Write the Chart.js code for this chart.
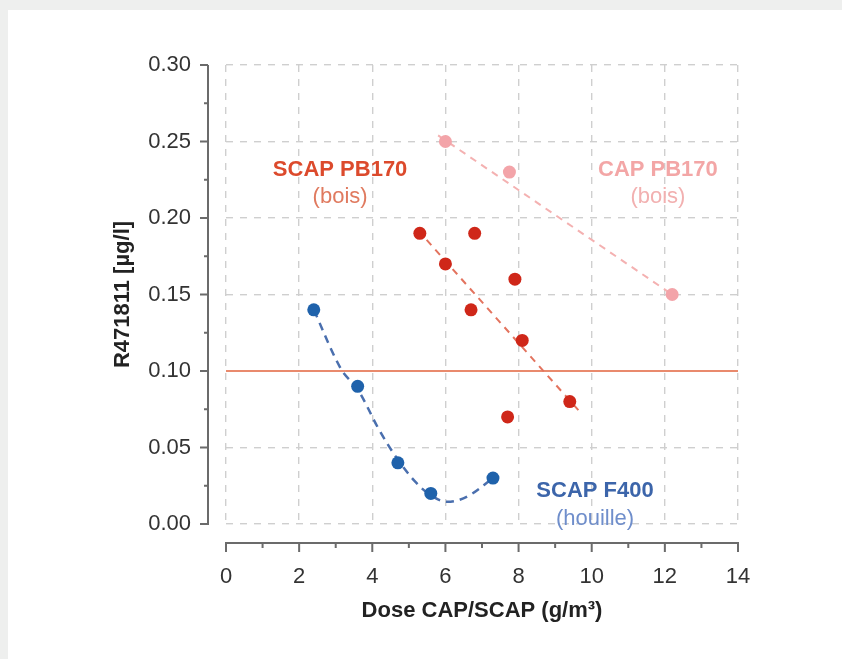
<!DOCTYPE html>
<html>
<head>
<meta charset="utf-8">
<script src="https://cdn.jsdelivr.net/npm/chart.js@4"></script>
<style>
  html, body { margin: 0; padding: 0; background: #eeefee; }
  #card { position: absolute; left: 8px; top: 10px; right: 0; bottom: 0; background: #fff; }
  #chart { position: absolute; left: 0; top: 0; }
</style>
</head>
<body>
<div id="card"></div>
<canvas id="chart" width="842" height="659"></canvas>
<script>
// SCAP PB170 (bois)
const scapPbX = [5.3, 6.8, 6.0, 7.9, 6.7, 8.1, 7.7, 9.4];
const scapPbY = [0.19, 0.19, 0.17, 0.16, 0.14, 0.12, 0.07, 0.08];
const scapPbFitX = [5.25, 9.65];
const scapPbFitY = [0.192, 0.074];

// CAP PB170 (bois)
const capPbX = [6.0, 7.75, 12.2];
const capPbY = [0.25, 0.23, 0.15];
const capPbFitX = [5.8, 12.2];
const capPbFitY = [0.254, 0.15];

// SCAP F400 (houille)
const scapFX = [2.4, 3.6, 4.7, 5.6, 7.3];
const scapFY = [0.14, 0.09, 0.04, 0.02, 0.03];
const scapFFitX = [2.4, 3.15, 3.6, 4.2, 4.7, 5.2, 5.65, 6.05, 6.6, 7.3];
const scapFFitY = [0.14, 0.101, 0.088, 0.061, 0.042, 0.027, 0.018, 0.0145, 0.018, 0.03];

// seuil
const limitX = [0, 14];
const limitY = [0.1, 0.1];

const xTicks = [0, 2, 4, 6, 8, 10, 12, 14];
const yTicks = [0, 0.05, 0.1, 0.15, 0.2, 0.25, 0.3];

const textLabels = [
  { text: "SCAP PB170", x: 3.12, y: 0.2314, color: "#dc4a2c", bold: true },
  { text: "(bois)", x: 3.12, y: 0.2137, color: "#e07a5f", bold: false },
  { text: "CAP PB170", x: 11.81, y: 0.2314, color: "#f3a6a6", bold: true },
  { text: "(bois)", x: 11.81, y: 0.2137, color: "#f2b0b0", bold: false },
  { text: "SCAP F400", x: 10.09, y: 0.0216, color: "#3c65aa", bold: true },
  { text: "(houille)", x: 10.09, y: 0.0033, color: "#6f8ecb", bold: false },
];

const FONT = "'Liberation Sans', Arial, Helvetica, sans-serif";

function pts(xs, ys) {
  return xs.map((x, i) => ({ x: x, y: ys[i] }));
}

// axes drawn a bit away from the plot area, like the original figure
const offsetAxes = {
  id: "offsetAxes",
  afterDraw(chart) {
    const ctx = chart.ctx;
    const xs = chart.scales.x;
    const ys = chart.scales.y;
    const axX = chart.chartArea.left - 18;
    const axY = chart.chartArea.bottom + 19;
    ctx.save();
    ctx.strokeStyle = "#6b6b6b";
    ctx.lineWidth = 2;
    ctx.beginPath();
    ctx.moveTo(axX, ys.getPixelForValue(0.3));
    ctx.lineTo(axX, ys.getPixelForValue(0) + 1);
    for (let i = 0; i <= 12; i++) {
      const py = ys.getPixelForValue(i * 0.025);
      ctx.moveTo(axX, py);
      ctx.lineTo(axX - (i % 2 === 0 ? 8 : 4), py);
    }
    ctx.moveTo(xs.getPixelForValue(0) - 1, axY);
    ctx.lineTo(xs.getPixelForValue(14) + 1, axY);
    for (let i = 0; i <= 14; i++) {
      const px = xs.getPixelForValue(i);
      ctx.moveTo(px, axY);
      ctx.lineTo(px, axY + (i % 2 === 0 ? 9 : 5));
    }
    ctx.stroke();

    ctx.textAlign = "center";
    ctx.textBaseline = "middle";
    textLabels.forEach((l) => {
      ctx.fillStyle = l.color;
      ctx.font = (l.bold ? "bold " : "") + "22px " + FONT;
      ctx.fillText(l.text, xs.getPixelForValue(l.x), ys.getPixelForValue(l.y));
    });
    ctx.restore();
  },
};

const ctx = document.getElementById("chart").getContext("2d");
new Chart(ctx, {
  type: "scatter",
  data: {
    datasets: [
      {
        label: "SCAP PB170",
        data: pts(scapPbX, scapPbY),
        backgroundColor: "#cf2719",
        borderWidth: 0,
        pointRadius: 6.5,
        order: 0,
      },
      {
        label: "CAP PB170",
        data: pts(capPbX, capPbY),
        backgroundColor: "#f3a4a9",
        borderWidth: 0,
        pointRadius: 6.5,
        order: 0,
      },
      {
        label: "SCAP F400",
        data: pts(scapFX, scapFY),
        backgroundColor: "#1f62ab",
        borderWidth: 0,
        pointRadius: 6.5,
        order: 0,
      },
      {
        type: "line",
        data: pts(scapPbFitX, scapPbFitY),
        borderColor: "#e3735e",
        borderWidth: 2,
        borderDash: [7, 6],
        pointRadius: 0,
        order: 1,
      },
      {
        type: "line",
        data: pts(capPbFitX, capPbFitY),
        borderColor: "#f4b1b1",
        borderWidth: 2,
        borderDash: [7, 6],
        pointRadius: 0,
        order: 1,
      },
      {
        type: "line",
        data: pts(scapFFitX, scapFFitY),
        borderColor: "#4a6fae",
        borderWidth: 2.5,
        borderDash: [8, 6],
        pointRadius: 0,
        tension: 0.35,
        order: 1,
      },
      {
        type: "line",
        data: pts(limitX, limitY),
        borderColor: "#e98a6d",
        borderWidth: 2,
        pointRadius: 0,
        order: 2,
      },
    ],
  },
  options: {
    responsive: false,
    animation: false,
    layout: { padding: { left: 0, top: 65, right: 104, bottom: 0 } },
    plugins: { legend: { display: false }, tooltip: { enabled: false } },
    scales: {
      x: {
        type: "linear",
        min: 0,
        max: 14,
        afterFit: (scale) => { scale.height = 135; },
        afterBuildTicks: (scale) => { scale.ticks = xTicks.map((v) => ({ value: v })); },
        ticks: { padding: 40, color: "#333", font: { family: FONT, size: 22 } },
        grid: { color: "#cfcfcf", lineWidth: 1.4, drawTicks: false },
        border: { display: false, dash: [7, 7] },
        title: {
          display: true,
          text: "Dose CAP/SCAP (g/m³)",
          color: "#222",
          font: { family: FONT, size: 22, weight: "bold" },
          padding: { top: 0, bottom: 35 },
        },
      },
      y: {
        type: "linear",
        min: 0,
        max: 0.3,
        afterFit: (scale) => { scale.width = 226; },
        afterBuildTicks: (scale) => { scale.ticks = yTicks.map((v) => ({ value: v })); },
        ticks: {
          padding: 35,
          color: "#333",
          font: { family: FONT, size: 22 },
          callback: (v) => v.toFixed(2),
        },
        grid: { color: "#cfcfcf", lineWidth: 1.4, drawTicks: false },
        border: { display: false, dash: [7, 7] },
        title: {
          display: true,
          text: "R471811 [µg/l]",
          color: "#222",
          font: { family: FONT, size: 22, weight: "bold" },
          padding: { top: 110, bottom: 0 },
        },
      },
    },
  },
  plugins: [offsetAxes],
});
</script>
</body>
</html>
